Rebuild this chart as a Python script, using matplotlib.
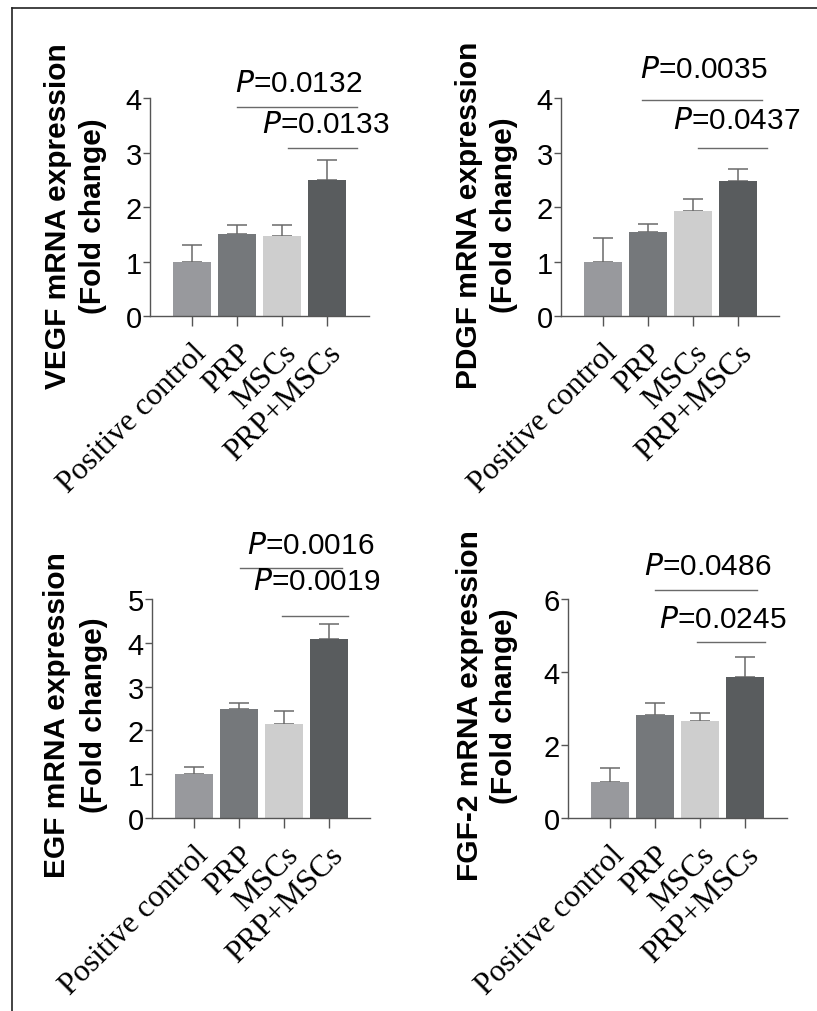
import matplotlib.pyplot as plt
from matplotlib.lines import Line2D

W, H = 817, 1012
DPI = 100

groups = ["Positive control", "PRP", "MSCs", "PRP+MSCs"]
bar_colors = ["#98999d", "#75787b", "#cecece", "#595c5e"]

# one entry per panel
genes = ["VEGF", "PDGF", "EGF", "FGF-2"]
means = [
    [1.0, 1.5, 1.47, 2.5],
    [1.0, 1.55, 1.92, 2.47],
    [1.0, 2.48, 2.14, 4.08],
    [1.0, 2.83, 2.67, 3.87],
]
errors = [
    [0.30, 0.17, 0.20, 0.37],
    [0.43, 0.13, 0.23, 0.23],
    [0.17, 0.14, 0.31, 0.34],
    [0.37, 0.32, 0.20, 0.55],
]
y_max = [4, 4, 5, 6]
y_ticks = [[0, 1, 2, 3, 4], [0, 1, 2, 3, 4], [0, 1, 2, 3, 4, 5], [0, 2, 4, 6]]
# comparison lines: (label, y, x_start, x_end, text_x, text_y)
comparisons = [
    [("0.0132", 3.83, 1.0, 3.67, 2.38, 4.12), ("0.0133", 3.08, 2.13, 3.67, 2.98, 3.37)],
    [("0.0035", 3.96, 0.87, 3.53, 2.25, 4.39), ("0.0437", 3.08, 2.1, 3.65, 2.98, 3.45)],
    [("0.0016", 5.71, 1.02, 3.29, 2.6, 6.05), ("0.0019", 4.61, 1.96, 3.42, 2.73, 5.22)],
    [("0.0486", 6.25, 1.0, 3.27, 2.18, 6.68), ("0.0245", 4.82, 1.93, 3.44, 2.5, 5.23)],
]
# axes boxes in pixels: left, right, top, bottom, x of first bar center
boxes = [
    (150, 369, 99, 317, 192),
    (561, 779, 99, 317, 603),
    (152, 370, 600, 819, 194),
    (568, 787, 600, 819, 610),
]
# y-label placement in pixels: x of line 1, x of line 2, vertical centre
label_pos = [(58, 93, 216), (469, 504, 215), (57, 94, 715), (470, 504, 706)]
spacing = 45.0

fig = plt.figure(figsize=(W / DPI, H / DPI), dpi=DPI)
axis_color = "#555555"

for i in range(4):
    l, r, t, b, c0 = boxes[i]
    ax = fig.add_axes([l / W, 1 - b / H, (r - l) / W, (b - t) / H])
    x = list(range(4))
    ax.bar(x, means[i], width=0.84, color=bar_colors, zorder=2)
    ax.errorbar(x, means[i], yerr=[[0] * 4, errors[i]], fmt="none",
                ecolor="#6a6a6a", elinewidth=1.1, capsize=7, capthick=1.1, zorder=1)
    ax.set_xlim((l - c0) / spacing, (r - c0) / spacing)
    ax.set_ylim(0, y_max[i])
    ax.set_yticks(y_ticks[i])
    ax.set_xticks(x)
    ax.set_xticklabels(groups, rotation=45, ha="right", rotation_mode="anchor",
                       family="Liberation Serif", fontsize=22.5)
    ax.tick_params(axis="y", labelsize=21, length=5, width=1, color=axis_color, pad=1)
    ax.tick_params(axis="x", length=7, width=1, color=axis_color, pad=9)
    for lab in ax.get_yticklabels():
        lab.set_family("Liberation Sans")
    for s in ["top", "right"]:
        ax.spines[s].set_visible(False)
    for s in ["left", "bottom"]:
        ax.spines[s].set_color(axis_color)
        ax.spines[s].set_linewidth(1)

    # two-line y label
    x1, x2, yc = label_pos[i]
    for xx, txt in [(x1, genes[i] + " mRNA expression"), (x2, "(Fold change)")]:
        fig.text(xx / W, 1 - yc / H, txt, rotation=90, ha="center", va="center",
                 family="Liberation Sans", fontweight="bold", fontsize=21.5)

    for lab, yy, x0, x1_, tx, ty in comparisons[i]:
        ax.plot([x0, x1_], [yy, yy], color="#6a6a6a", lw=1, clip_on=False)
        ax.text(tx, ty, r"$\it{P}$=" + lab, ha="center", va="baseline",
                fontsize=21.5, family="Liberation Sans")

# partial frame from the source figure
fig.add_artist(Line2D([12 / W, 1], [1 - 9 / H, 1 - 9 / H], color="#222222", lw=1.2))
fig.add_artist(Line2D([12 / W, 12 / W], [0, 1 - 9 / H], color="#222222", lw=1.2))

fig.savefig("out.png", dpi=DPI)
